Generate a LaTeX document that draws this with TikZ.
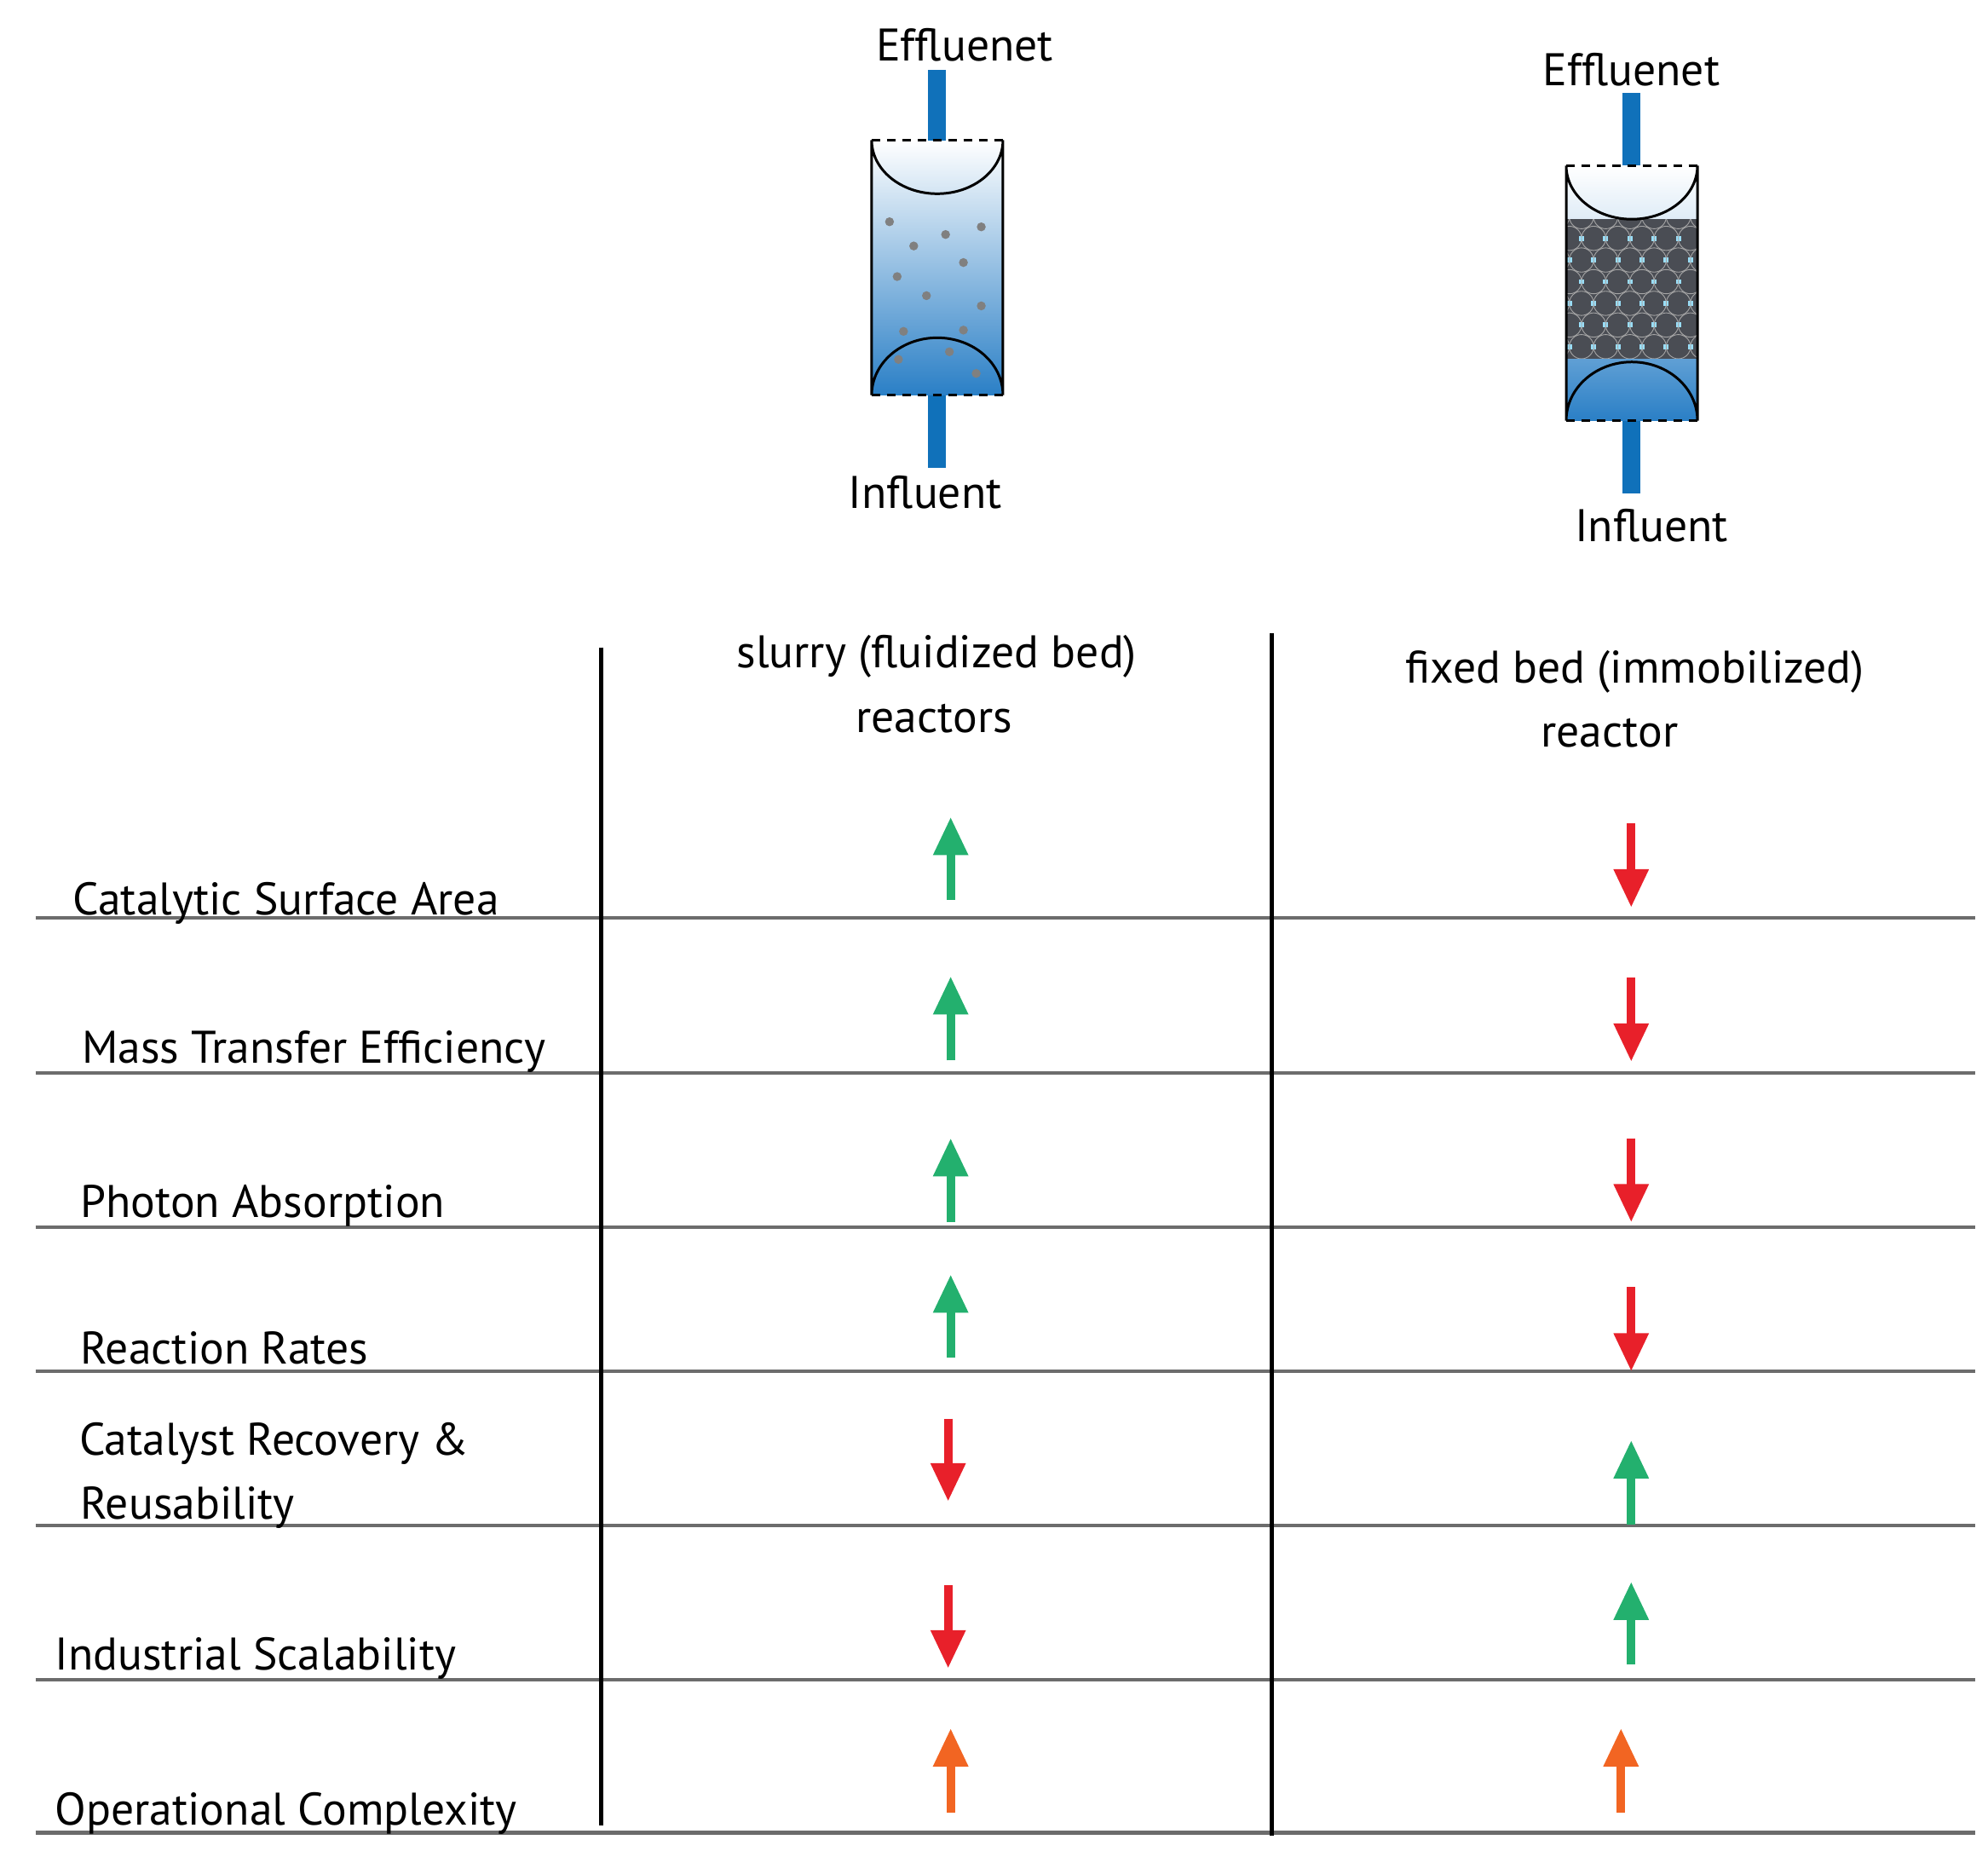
\documentclass[tikz,border=0pt]{standalone}
\usepackage{fontspec}
\setmainfont{PT Sans}
\usetikzlibrary{arrows.meta}
\definecolor{pipe}{RGB}{16,113,186}
\definecolor{liq}{RGB}{42,127,198}
\definecolor{grn}{RGB}{35,176,110}
\definecolor{rd}{RGB}{232,32,42}
\definecolor{org}{RGB}{242,101,34}
\definecolor{bed}{RGB}{74,77,84}
\begin{document}
\begin{tikzpicture}[x=1bp,y=-1bp,
  lbl/.style={anchor=base west,inner sep=0,font=\fontsize{36}{40}\selectfont},
  hdr/.style={anchor=base,inner sep=0,font=\fontsize{36}{40}\selectfont},
  rowline/.style={draw=gray!85!black,line width=3bp},
  colline/.style={draw=black,line width=3.2bp},
  arr/.style={line width=6.5bp,-{Triangle[length=30bp,width=26bp]}},
  pipeln/.style={pipe,line width=14bp},
  shell/.style={draw=black,line width=2bp}]
\useasboundingbox (0,0) rectangle (1560,1457);
% table lines
\foreach \y/\n in {720/a,842/b,963/c,1076/d,1197/e,1318/f,1438/g}{
  \coordinate (L\n) at (28,\y); \coordinate (R\n) at (1550,\y);
  \draw[rowline] (L\n) -- (R\n);}
\coordinate (c1t) at (472,508); \coordinate (c1b) at (472,1432);
\coordinate (c2t) at (998,497); \coordinate (c2b) at (998,1440);
\draw[colline] (c1t)--(c1b); \draw[colline] (c2t)--(c2b);
% labels
\node[lbl] (t1) at (57,718) {Catalytic Surface Area};
\node[lbl] (t2) at (64,834) {Mass Transfer Efficiency};
\node[lbl] (t3) at (63,955) {Photon Absorption};
\node[lbl] (t4) at (63,1070) {Reaction Rates};
\node[lbl] (t5) at (62,1142) {Catalyst Recovery \&};
\node[lbl] (t5b) at (63,1192) {Reusability};
\node[lbl] (t6) at (43,1310) {Industrial Scalability};
\node[lbl] (t7) at (43,1432) {Operational Complexity};
\node[hdr] (h1) at (735,524) {slurry (fluidized bed)};
\node[hdr] (h1b) at (733,575) {reactors};
\node[hdr] (h2) at (1283,536) {fixed bed (immobilized)};
\node[hdr] (h2b) at (1263,586) {reactor};
% arrows
\foreach \x/\a/\b/\c [count=\i] in {
 746/706/641/grn,746/832/766/grn,746/959/893/grn,746/1065/1000/grn,
 744/1113/1178/rd,744/1244/1309/rd,746/1422/1356/org,
 1280/646/712/rd,1280/767/833/rd,1280/893/959/rd,1280/1010/1076/rd,
 1280/1196/1130/grn,1280/1306/1241/grn,1272/1422/1356/org}{
  \coordinate (s\i) at (\x,\a); \coordinate (e\i) at (\x,\b);
  \draw[arr,\c] (s\i) -- (e\i);}
% left reactor
\begin{scope}
 \shade[top color=white,bottom color=liq] (684,110) rectangle (787,310);
 \foreach \px/\py in {698/174,717/193,742/184,770/178,704/217,756/206,727/232,770/240,709/260,756/259,745/276,705/282,766/293}
   \fill[gray] (\px,\py) circle (3.5);
 \draw[pipeln] (735,55) -- (735,110);
 \draw[pipeln] (735,310) -- (735,367);
 \draw[shell] (684,110) arc[start angle=180,end angle=0,x radius=51.5,y radius=42] -- (787,310)
   arc[start angle=0,end angle=-180,x radius=51.5,y radius=45] -- cycle;
 \draw[line width=2bp,dashed,dash pattern=on 7bp off 5bp] (684,110)--(787,110) (684,310)--(787,310);
\end{scope}
\node[hdr] (ef1) at (757,48) {Effluenet};
\node[hdr] (in1) at (726,399) {Influent};
% right reactor
\begin{scope}
 \shade[top color=white,bottom color=liq!15] (1229,130) rectangle (1332,172);
 \fill[bed] (1229,172) rectangle (1332,282);
 \begin{scope}
  \clip (1229,172) rectangle (1332,282);
  \foreach \r in {0,...,6}{\foreach \c in {0,...,6}{
    \pgfmathsetmacro\xx{1222+\c*19+mod(\r,2)*9.5}
    \pgfmathsetmacro\yy{170+\r*17}
    \draw[gray!70,line width=0.6bp] (\xx,\yy) circle (9.5);
    \fill[cyan!40!white] (\xx+9.5-2,\yy-2) rectangle (\xx+9.5+2,\yy+2);}}
 \end{scope}
 \shade[top color=liq!75,bottom color=liq] (1229,282) rectangle (1332,330);
 \draw[pipeln] (1280,73) -- (1280,130);
 \draw[pipeln] (1280,330) -- (1280,387);
 \draw[shell] (1229,130) arc[start angle=180,end angle=0,x radius=51.5,y radius=42] -- (1332,330)
   arc[start angle=0,end angle=-180,x radius=51.5,y radius=46] -- cycle;
 \draw[line width=2bp,dashed,dash pattern=on 7bp off 5bp] (1229,130)--(1332,130) (1229,330)--(1332,330);
\end{scope}
\node[hdr] (ef2) at (1280,67) {Effluenet};
\node[hdr] (in2) at (1296,425) {Influent};
\end{tikzpicture}
\end{document}
